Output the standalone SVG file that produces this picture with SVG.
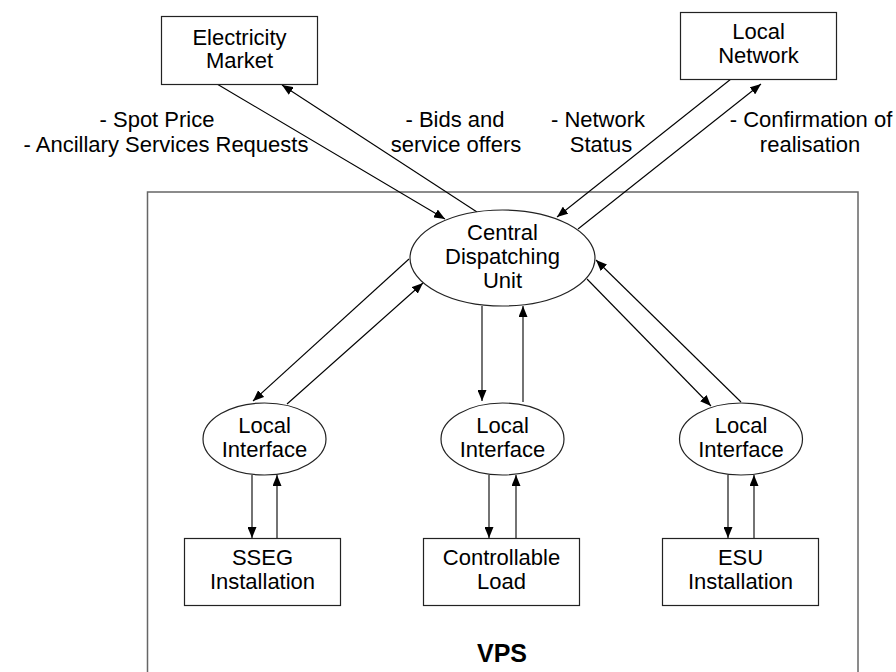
<svg xmlns="http://www.w3.org/2000/svg" width="896" height="672" viewBox="0 0 896 672">
<defs>
<style>
text{font-family:"Liberation Sans",Arial,sans-serif;font-size:22px;fill:#000;text-anchor:middle}
.box{fill:#fff;stroke:#222;stroke-width:1.2}
.ell{fill:#fff;stroke:#222;stroke-width:1.2}
.c line{stroke:#000;stroke-width:1.1;marker-end:url(#ah)}
.c line.n{marker-end:none}
</style>
<marker id="ah" viewBox="0 0 11 9" refX="11" refY="4.5" markerWidth="11" markerHeight="9" orient="auto" markerUnits="userSpaceOnUse"><path d="M0,0 L11,4.5 L0,9 z" fill="#000"/></marker>
</defs>
<rect width="896" height="672" fill="#fff"/>
<g id="vps">
<rect x="147.5" y="192" width="710.5" height="520" fill="none" stroke="#666" stroke-width="1.5"/>
<text x="502" y="662" style="font-weight:bold;font-size:25px">VPS</text>
</g>
<g id="labels">
<text x="157" y="127">- Spot Price</text>
<text x="166" y="152">- Ancillary Services Requests</text>
<text x="455" y="127">- Bids and</text>
<text x="456" y="152">service offers</text>
<text x="598" y="127">- Network</text>
<text x="601" y="152">Status</text>
<text x="811" y="127">- Confirmation of</text>
<text x="810" y="152">realisation</text>
</g>
<g class="c" id="connectors">
<line x1="217" y1="84" x2="445" y2="219"/>
<line x1="477" y1="212" x2="282" y2="85"/>
<line x1="731" y1="79" x2="557" y2="217"/>
<line x1="578" y1="229" x2="761" y2="84"/>
<line x1="409" y1="259" x2="253" y2="401"/>
<line x1="287" y1="404" x2="423" y2="283"/>
<line x1="482" y1="306" x2="482" y2="401"/>
<line x1="523" y1="402" x2="523" y2="306"/>
<line x1="587" y1="279" x2="711" y2="406"/>
<line x1="741" y1="402" x2="596" y2="260"/>
<line x1="252" y1="475" x2="252" y2="538"/>
<line x1="277" y1="538" x2="277" y2="475"/>
<line x1="489" y1="475" x2="489" y2="538"/>
<line x1="516" y1="538" x2="516" y2="475"/>
<line x1="728" y1="475" x2="728" y2="538"/>
<line x1="754" y1="538" x2="754" y2="475"/>
</g>
<g id="market">
<rect class="box" x="161.5" y="16.5" width="156" height="68"/>
<text x="239.5" y="45">Electricity</text>
<text x="239.5" y="68">Market</text>
</g>
<g id="network">
<rect class="box" x="680.5" y="12.5" width="156" height="67"/>
<text x="758.5" y="39">Local</text>
<text x="758.5" y="63">Network</text>
</g>
<g id="cdu">
<ellipse class="ell" cx="502.5" cy="258" rx="92.5" ry="48"/>
<text x="502.5" y="240">Central</text>
<text x="502.5" y="264">Dispatching</text>
<text x="502.5" y="288">Unit</text>
</g>
<g id="li1">
<ellipse class="ell" cx="264.5" cy="439" rx="61.5" ry="36"/>
<text x="264.5" y="433">Local</text>
<text x="264.5" y="457">Interface</text>
</g>
<g id="li2">
<ellipse class="ell" cx="502.5" cy="439" rx="61.5" ry="36"/>
<text x="502.5" y="433">Local</text>
<text x="502.5" y="457">Interface</text>
</g>
<g id="li3">
<ellipse class="ell" cx="741" cy="439" rx="61.5" ry="36"/>
<text x="741" y="433">Local</text>
<text x="741" y="457">Interface</text>
</g>
<g id="sseg">
<rect class="box" x="184.5" y="538.5" width="156" height="67"/>
<text x="262.5" y="565">SSEG</text>
<text x="262.5" y="589">Installation</text>
</g>
<g id="load">
<rect class="box" x="423.5" y="538.5" width="156" height="67"/>
<text x="501.5" y="565">Controllable</text>
<text x="501.5" y="589">Load</text>
</g>
<g id="esu">
<rect class="box" x="662.5" y="538.5" width="156" height="67"/>
<text x="740.5" y="565">ESU</text>
<text x="740.5" y="589">Installation</text>
</g>
</svg>
